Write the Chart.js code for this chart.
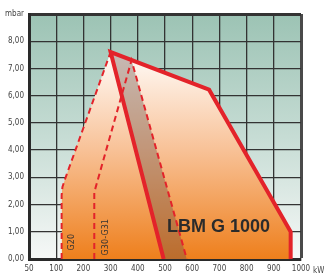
<!DOCTYPE html>
<html>
<head>
<meta charset="utf-8">
<style>
  html, body { margin: 0; padding: 0; background: #fff; }
  #wrap { width: 324px; height: 275px; }
</style>
<script src="https://cdn.jsdelivr.net/npm/chart.js@4/dist/chart.umd.min.js"></script>
</head>
<body>
<div id="wrap"><canvas id="burnerChart"></canvas></div>
<script>
// tick labels (x: first position is labelled 50, the rest go by 100 kW)
const xTickValues = [0, 100, 200, 300, 400, 500, 600, 700, 800, 900, 1000];
const xTickLabels = ['50', '100', '200', '300', '400', '500', '600', '700', '800', '900', '1000'];
const yTickLabels = ['0,00', '1,00', '2,00', '3,00', '4,00', '5,00', '6,00', '7,00', '8,00', 'mbar'];

// working field, solid red line
const envelopeKw = [495, 300, 662, 962, 962];
const envelopeMbar = [0, 7.6, 6.22, 1.0, 0];

// G20 dashed limit
const g20Kw = [120, 120, 123, 133, 300];
const g20Mbar = [0, 2.35, 2.65, 2.95, 7.6];

// G30-G31 dashed limit
const g30Kw = [240, 240, 377, 580];
const g30Mbar = [0, 2.45, 7.3, 0];

const toPoints = (xs, ys) => xs.map((x, i) => ({ x: x, y: ys[i] }));

const envelope = toPoints(envelopeKw, envelopeMbar);
const g20 = toPoints(g20Kw, g20Mbar);
const g30 = toPoints(g30Kw, g30Mbar);

// orange area: G20 limit then the top/right side of the envelope
const area = g20.concat(envelope.slice(2));
// brown band between the left solid line and the G30 right dashed line
const bandTop = [envelope[1], g30[2], g30[3]];
const bandBase = [envelope[1], envelope[0], g30[3]];

const RED = '#e3232a';
const tickFont = { family: "'Liberation Sans Narrow', 'DejaVu Sans Condensed', 'Liberation Sans', sans-serif", size: 8 };

function vGradient(chart, stops) {
    const area = chart.chartArea;
    if (!area) return stops[stops.length - 1][1];
    const g = chart.ctx.createLinearGradient(0, area.top, 0, area.bottom);
    stops.forEach(s => g.addColorStop(s[0], s[1]));
    return g;
}

// фон области графика
const plotBackground = {
    id: 'plotBackground',
    beforeDraw(chart) {
        const { ctx, chartArea } = chart;
        ctx.save();
        ctx.fillStyle = vGradient(chart, [[0, '#9cc3b4'], [0.5, '#c6dcd4'], [1, '#f6f8f7']]);
        ctx.fillRect(chartArea.left, chartArea.top, chartArea.right - chartArea.left, chartArea.bottom - chartArea.top);
        ctx.restore();
    }
};

// подписи
const labels = {
    id: 'labels',
    afterDatasetsDraw(chart) {
        const { ctx, scales } = chart;
        const x = scales.x, y = scales.y;
        ctx.save();
        ctx.fillStyle = '#2b2b2b';
        ctx.font = "bold 18px 'Liberation Sans', Arial, sans-serif";
        ctx.textAlign = 'center';
        ctx.textBaseline = 'alphabetic';
        ctx.fillText('LBM G 1000', x.getPixelForValue(697), y.getPixelForValue(0.98));

        ctx.font = "9px " + tickFont.family;
        ctx.fillStyle = '#333';
        [['G20', 156, 0.62], ['G30-G31', 280, 0.8]].forEach(t => {
            ctx.save();
            ctx.translate(x.getPixelForValue(t[1]), y.getPixelForValue(t[2]));
            ctx.rotate(-Math.PI / 2);
            ctx.textBaseline = 'middle';
            ctx.fillText(t[0], 0, 0);
            ctx.restore();
        });

        ctx.font = "8px " + tickFont.family;
        ctx.fillStyle = '#444';
        ctx.textAlign = 'left';
        ctx.fillText('kW', chart.chartArea.right + 12, chart.chartArea.bottom + 14);
        ctx.restore();
    }
};

const ctxChart = document.getElementById('burnerChart').getContext('2d');

const burnerChart = new Chart(ctxChart, {
    type: 'scatter',
    data: {
        datasets: [{
            data: envelope,
            showLine: true,
            borderColor: RED,
            borderWidth: 4,
            borderJoinStyle: 'miter',
            pointRadius: 0,
            fill: false,
            order: 0
        }, {
            data: g20,
            showLine: true,
            borderColor: RED,
            borderWidth: 2,
            borderDash: [6, 4],
            pointRadius: 0,
            fill: false,
            order: 1
        }, {
            data: g30,
            showLine: true,
            borderColor: RED,
            borderWidth: 2,
            borderDash: [6, 4],
            pointRadius: 0,
            fill: false,
            order: 2
        }, {
            data: bandTop,
            showLine: true,
            borderWidth: 0,
            borderColor: 'rgba(0,0,0,0)',
            pointRadius: 0,
            fill: { target: 4 },
            backgroundColor: 'rgba(105, 78, 70, 0.38)',
            order: 3
        }, {
            data: bandBase,
            showLine: true,
            borderWidth: 0,
            borderColor: 'rgba(0,0,0,0)',
            pointRadius: 0,
            fill: false,
            order: 4
        }, {
            data: area,
            showLine: true,
            borderWidth: 0,
            borderColor: 'rgba(0,0,0,0)',
            pointRadius: 0,
            fill: 'origin',
            backgroundColor: (c) => vGradient(c.chart, [[0, '#ffffff'], [0.17, '#fffaf6'], [0.55, '#f8c298'], [1, '#ee7f1c']]),
            order: 5
        }]
    },
    options: {
        responsive: true,
        maintainAspectRatio: false,
        animation: false,
        layout: { padding: { top: 14, right: 23, left: 0, bottom: 0 } },
        plugins: {
            legend: { display: false },
            tooltip: { enabled: false }
        },
        scales: {
            x: {
                type: 'linear',
                min: 0,
                max: 1000,
                afterFit: (s) => { s.height = 16; },
                afterBuildTicks: (s) => { s.ticks = xTickValues.map(v => ({ value: v })); },
                ticks: {
                    padding: 5,
                    color: '#444',
                    font: tickFont,
                    maxRotation: 0,
                    autoSkip: false,
                    callback: (v) => xTickLabels[xTickValues.indexOf(v)]
                },
                grid: {
                    drawTicks: false,
                    color: (c) => c.tick && c.tick.value === 1000 ? '#4a4a4a' : '#333',
                    lineWidth: (c) => c.tick && c.tick.value === 1000 ? 3 : 1.3
                },
                border: { color: '#2a2a2a', width: 3 }
            },
            y: {
                min: 0,
                max: 9,
                afterFit: (s) => { s.width = 29; },
                ticks: {
                    stepSize: 1,
                    padding: 5,
                    color: '#444',
                    font: tickFont,
                    callback: (v) => yTickLabels[v]
                },
                grid: {
                    drawTicks: false,
                    color: '#333',
                    lineWidth: (c) => c.tick && c.tick.value === 9 ? 3 : 1.3
                },
                border: { color: '#2a2a2a', width: 3 }
            }
        }
    },
    plugins: [plotBackground, labels]
});
</script>
</body>
</html>
